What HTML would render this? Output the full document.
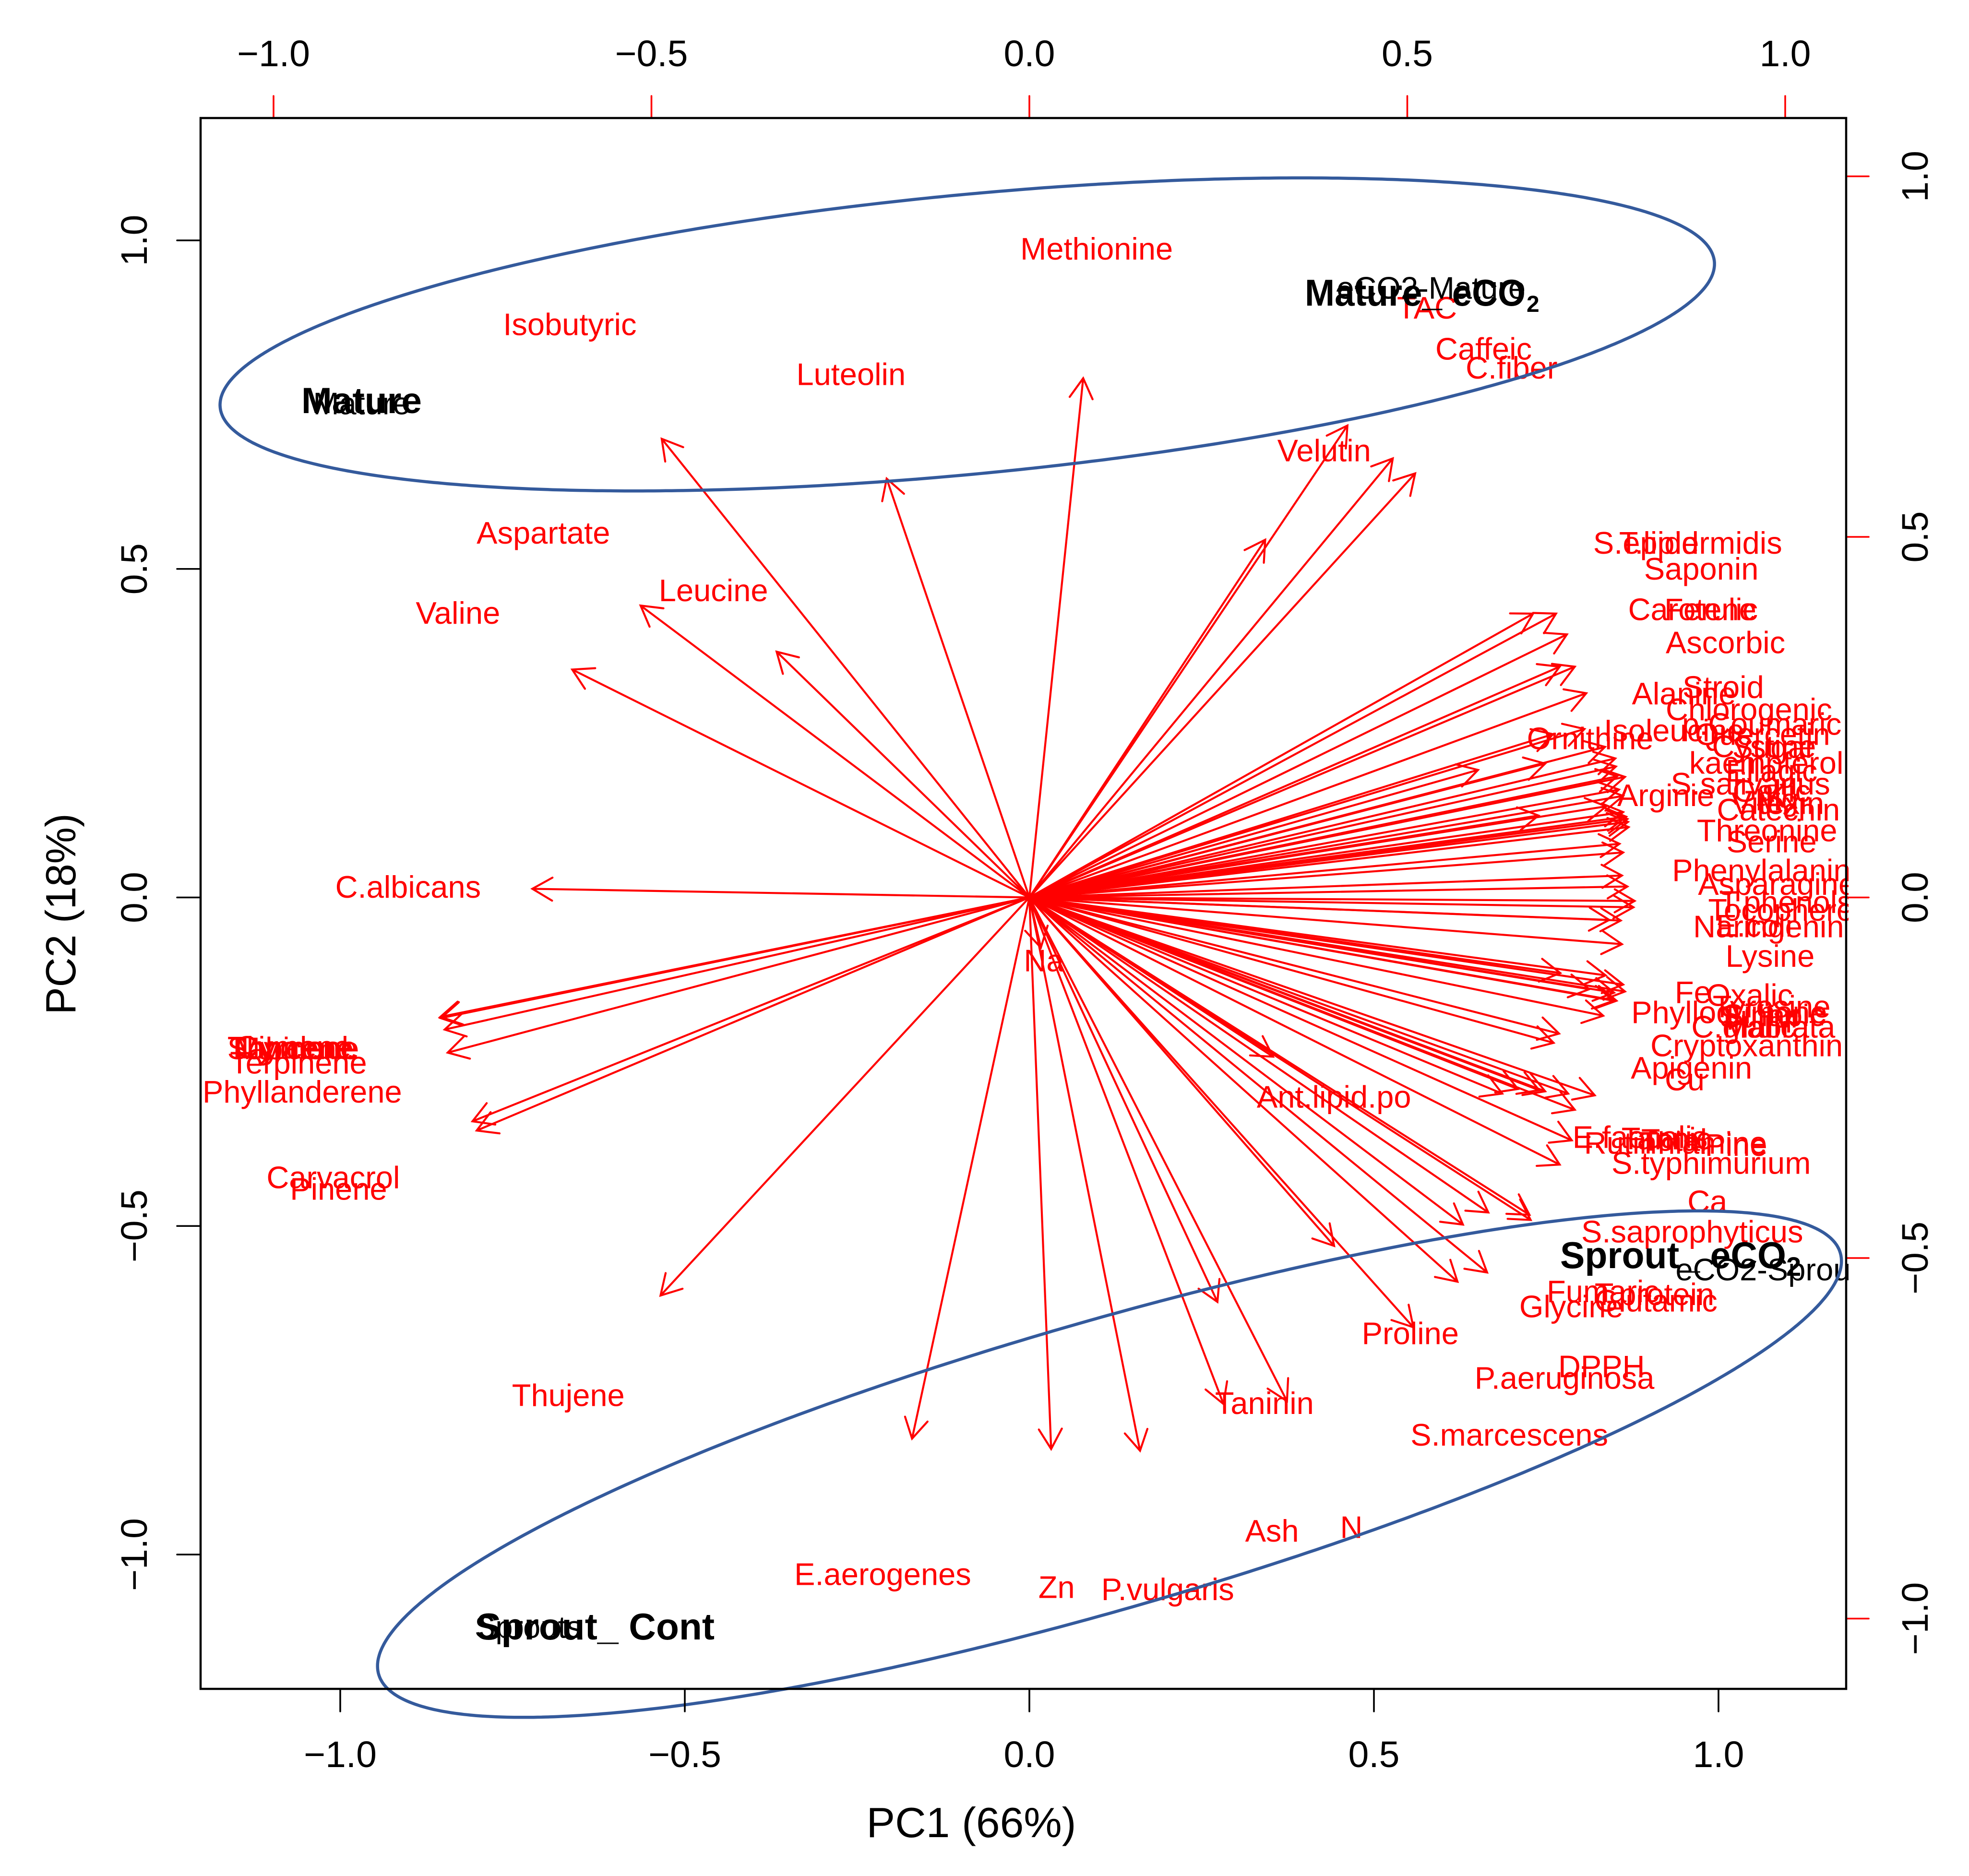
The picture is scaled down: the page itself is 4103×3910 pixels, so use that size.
<!DOCTYPE html>
<html lang="en">
<head>
<meta charset="utf-8">
<title>PCA biplot of sprouts and mature plants</title>
<style>
html,body{margin:0;padding:0;background:#fff;}
svg{display:block;}
text{font-family:"Liberation Sans",Arial,sans-serif;}
</style>
</head>
<body>
<svg id="biplot" xmlns="http://www.w3.org/2000/svg" width="4103" height="3910" viewBox="0 0 4103 3910">
  <rect x="0" y="0" width="4103" height="3910" fill="#ffffff"/>
  <defs><clipPath id="label-clip"><rect x="0" y="0" width="3852" height="3910"/></clipPath></defs>
  <g id="loadings-layer"></g>
  <g id="labels-layer" clip-path="url(#label-clip)"></g>
  <path id="mature-outline" fill="none" stroke="#345a9c" stroke-width="6.5"/>
  <path id="sprout-outline" fill="none" stroke="#345a9c" stroke-width="6.5"/>
  <text x="628" y="861" font-size="76" font-weight="bold" textLength="251" lengthAdjust="spacingAndGlyphs" fill="#000">Mature</text>
  <text x="2719" y="637" font-size="78" font-weight="bold" fill="#000" textLength="460" lengthAdjust="spacingAndGlyphs">Mature_ eCO</text>
  <text x="3181" y="650" font-size="48" font-weight="bold" fill="#000">2</text>
  <text x="992" y="3417" font-size="78" font-weight="bold" textLength="497" lengthAdjust="spacingAndGlyphs" fill="#000">Sprout_ Cont</text>
  <text x="3251" y="2643" font-size="78" font-weight="bold" fill="#000" textLength="471" lengthAdjust="spacingAndGlyphs">Sprout_ eCO</text>
  <text x="3722" y="2659" font-size="56" font-weight="bold" fill="#000">2</text>
  <g id="axes-layer"></g>
  <rect x="418" y="246" width="3429" height="3274" fill="none" stroke="#000" stroke-width="4.5"/>
  <text x="2024" y="3829" font-size="88" text-anchor="middle" textLength="437" lengthAdjust="spacingAndGlyphs" fill="#000">PC1 (66%)</text>
  <text x="157" y="1905" font-size="88" text-anchor="middle" textLength="419" lengthAdjust="spacingAndGlyphs" transform="rotate(-90 157 1905)" fill="#000">PC2 (18%)</text>
</svg>
<script>
// Variable loadings (top / right axis units)
const variableNames = ["S.epidermidis","T.lipid","Saponin","Carotene","Ferulic","Ascorbic","Stroid","Alanine","Chlorogenic","p.Coumaric","Isoleucine","Ornithine","Quercetin","Cystine","Sugar","kaempferol","Ellagic","S.salivarius","Gallic","K","Mg","Vitexin","Arginie","Catechin","Threonine","Serine","Phenylalanine","Asparagine","T.phenols","Tocopherol","Naringenin","E.coli","Lysine","Fe","Oxalic","Tyrosine","Phylloquinone","Sulfur","Sinapic","C.glabrata","Malic","Cryptoxanthin","Apigenin","Cu","E.faecalis","Rutin","Tannic","Total","Thiamine","Pine","S.typhimurium","Ca","S.saprophyticus","T.protein","Glutamic","Fumaric","Glycine","DPPH","P.aeruginosa","Proline","S.marcescens","Ant.lipid.po","Taninin","Na","Ash","N","Zn","P.vulgaris","E.aerogenes","Thujene","Carvacrol","Pinene","Phyllanderene","Terpinene","Sabinene","Thymene","Myrcene","Linalool","Cymene","C.albicans","Valine","Aspartate","Leucine","Isobutyric","Luteolin","Methionine","Velutin","TAC","Caffeic","C.fiber"];
const loadingPc1 = [0.871,0.833,0.889,0.877,0.902,0.921,0.918,0.866,0.952,0.969,0.853,0.742,0.970,0.972,0.985,0.975,0.982,0.954,0.982,0.987,0.989,0.990,0.842,0.991,0.976,0.982,0.980,0.989,1.001,0.999,0.978,0.959,0.980,0.878,0.953,0.982,0.926,0.967,0.985,0.971,0.966,0.949,0.876,0.867,0.808,0.782,0.843,0.853,0.891,0.935,0.902,0.897,0.877,0.827,0.829,0.759,0.717,0.757,0.708,0.504,0.635,0.403,0.311,0.019,0.321,0.426,0.036,0.183,-0.194,-0.610,-0.921,-0.914,-0.962,-0.967,-0.974,-0.975,-0.973,-0.972,-0.974,-0.822,-0.756,-0.643,-0.418,-0.608,-0.236,0.089,0.390,0.526,0.601,0.638];
const loadingPc2 = [0.492,0.492,0.456,0.400,0.400,0.354,0.292,0.283,0.261,0.241,0.232,0.221,0.227,0.210,0.209,0.187,0.176,0.158,0.148,0.140,0.136,0.131,0.142,0.122,0.093,0.078,0.038,0.019,-0.006,-0.017,-0.040,-0.039,-0.081,-0.131,-0.135,-0.151,-0.159,-0.165,-0.163,-0.179,-0.179,-0.205,-0.236,-0.252,-0.332,-0.340,-0.334,-0.336,-0.340,-0.343,-0.368,-0.421,-0.463,-0.550,-0.559,-0.546,-0.567,-0.650,-0.666,-0.604,-0.745,-0.276,-0.701,-0.087,-0.878,-0.873,-0.956,-0.959,-0.938,-0.690,-0.388,-0.404,-0.269,-0.229,-0.209,-0.208,-0.209,-0.208,-0.207,0.015,0.395,0.506,0.426,0.795,0.726,0.900,0.620,0.818,0.761,0.735];

// Sample scores (bottom / left axis units)
const sampleNames = ["Mature","eCO2-Mature","Sprouts","eCO2-Sprout"];
const samplePc1 = [-0.969,0.583,-0.727,1.071];
const samplePc2 = [0.752,0.928,-1.110,-0.566];

// Axis ticks
const bottomTicks = [-1.0,-0.5,0.0,0.5,1.0];
const bottomTickLabels = ["\u22121.0","\u22120.5","0.0","0.5","1.0"];
const leftTicks = [-1.0,-0.5,0.0,0.5,1.0];
const leftTickLabels = ["\u22121.0","\u22120.5","0.0","0.5","1.0"];
const topTicks = [-1.0,-0.5,0.0,0.5,1.0];
const topTickLabels = ["\u22121.0","\u22120.5","0.0","0.5","1.0"];
const rightTicks = [-1.0,-0.5,0.0,0.5,1.0];
const rightTickLabels = ["\u22121.0","\u22120.5","0.0","0.5","1.0"];

const arrowScale = 0.8;

// Hand-drawn group outlines (page annotation shapes, not chart data)
const matureOutlineShape = "460,843 480,790 544,739 647,688 767,639 928,590 1123,540 1376,489 1697,440 1973,410 2200,392 2330,381 2559,371 2708,370 2904,374 3133,389 3305,413 3432,443 3524,484 3570,530 3573,553 3558,596 3478,662 3363,716 3248,759 3076,813 2881,861 2731,889 2594,915 2433,940 2238,966 2100,983 1852,1003 1548,1018 1330,1024 1089,1017 917,1007 744,986 618,958 549,933 498,905 469,871";
const sproutOutlineShape = "794,3475 820,3405 891,3317 1025,3237 1178,3156 1370,3068 1561,2988 1752,2914 1934,2856 2087,2805 2200,2774 2316,2740 2465,2700 2556,2675 2813,2617 3012,2580 3400,2530 3533,2525 3701,2530 3772,2560 3821,2592 3840,2627 3835,2663 3793,2719 3701,2791 3561,2888 3351,2990 3175,3064 3000,3143 2700,3245 2393,3337 2200,3394 1944,3454 1642,3521 1427,3554 1274,3570 1087,3580 939,3570 843,3545 805,3510";

const SVG_NS = "http://www.w3.org/2000/svg";
const xBottom = v => 2145 + 1436 * v;
const yLeft = v => 1870.5 - 1369.5 * v;
const xTop = v => 2145 + 1575 * v;
const yRight = v => 1870.5 - 1503 * v;

function slug(s){ return s.toLowerCase().replace(/[^a-z0-9]+/g,'-'); }

function make(tag, attrs, parent){
  const el = document.createElementNS(SVG_NS, tag);
  for (const k in attrs) el.setAttribute(k, attrs[k]);
  parent.appendChild(el);
  return el;
}

// Smooth an outline: express it as radius around a reference ellipse, keep only low harmonics.
function smoothOutline(shape, cx, cy, a, b, deg, harmonics){
  const t = deg * Math.PI / 180, ct = Math.cos(t), st = Math.sin(t);
  const polar = shape.split(' ').map(s => {
    const q = s.split(',').map(Number);
    const dx = q[0] - cx, dy = q[1] - cy;
    const u = (dx * ct + dy * st) / a, v = (-dx * st + dy * ct) / b;
    return [Math.atan2(v, u), Math.hypot(u, v)];
  }).sort((p, q) => p[0] - q[0]);
  const N = 720, radii = [];
  const m = polar.length;
  for (let i = 0; i < N; i++){
    const phi = -Math.PI + 2 * Math.PI * i / N;
    let j = 0;
    while (j < m && polar[j][0] <= phi) j++;
    const p1 = j === 0 ? [polar[m - 1][0] - 2 * Math.PI, polar[m - 1][1]] : polar[j - 1];
    const p2 = j === m ? [polar[0][0] + 2 * Math.PI, polar[0][1]] : polar[j];
    const w = (phi - p1[0]) / (p2[0] - p1[0]);
    radii.push(p1[1] + (p2[1] - p1[1]) * w);
  }
  const re = [], im = [];
  for (let k = 0; k <= harmonics; k++){
    let c = 0, s = 0;
    for (let i = 0; i < N; i++){
      const ang = 2 * Math.PI * k * i / N;
      c += radii[i] * Math.cos(ang);
      s += radii[i] * Math.sin(ang);
    }
    re.push(c / N); im.push(s / N);
  }
  let d = '';
  for (let i = 0; i < N; i++){
    let r = re[0];
    for (let k = 1; k <= harmonics; k++){
      const ang = 2 * Math.PI * k * i / N;
      r += 2 * (re[k] * Math.cos(ang) + im[k] * Math.sin(ang));
    }
    const phi = -Math.PI + 2 * Math.PI * i / N;
    const u = r * Math.cos(phi) * a, v = r * Math.sin(phi) * b;
    const x = cx + u * ct - v * st, y = cy + u * st + v * ct;
    d += (i ? 'L' : 'M') + x.toFixed(1) + ' ' + y.toFixed(1);
  }
  return d + 'Z';
}
document.getElementById('mature-outline').setAttribute('d', smoothOutline(matureOutlineShape, 2015.5, 697, 1565, 291, -5.67, 4));
document.getElementById('sprout-outline').setAttribute('d', smoothOutline(sproutOutlineShape, 2316, 3052, 1583.6, 306, -16.08, 4));

const arrowsLayer = document.getElementById('loadings-layer');
const labelsLayer = document.getElementById('labels-layer');
const axesLayer = document.getElementById('axes-layer');

function drawArrow(name, lx, ly){
  const x0 = xTop(0), y0 = yRight(0);
  const x1 = xTop(lx * arrowScale), y1 = yRight(ly * arrowScale);
  const a = Math.atan2(y1 - y0, x1 - x0);
  const len = 48, spread = Math.PI / 6;
  const ax = x1 - len * Math.cos(a - spread), ay = y1 - len * Math.sin(a - spread);
  const bx = x1 - len * Math.cos(a + spread), by = y1 - len * Math.sin(a + spread);
  const d = 'M' + x0 + ' ' + y0 + 'L' + x1 + ' ' + y1 + 'M' + ax + ' ' + ay + 'L' + x1 + ' ' + y1 + 'L' + bx + ' ' + by;
  const el = make('path', {d: d, fill: 'none', stroke: '#ff0000', 'stroke-width': 4.2, 'stroke-linecap': 'round'}, arrowsLayer);
  
  
}

function drawVariableLabel(name, lx, ly){
  const el = make('text', {x: xTop(lx), y: yRight(ly) + 23, 'font-size': 65, 'text-anchor': 'middle', fill: '#ff0000'}, labelsLayer);
  el.textContent = name;
  
  
}

function drawSampleLabel(name, sx, sy){
  const el = make('text', {x: xBottom(sx), y: yLeft(sy) + 23, 'font-size': 65, 'text-anchor': 'middle', fill: '#000000'}, labelsLayer);
  el.textContent = name;
  
  
}

variableNames.forEach((n, i) => drawArrow(n, loadingPc1[i], loadingPc2[i]));
variableNames.forEach((n, i) => drawVariableLabel(n, loadingPc1[i], loadingPc2[i]));
sampleNames.forEach((n, i) => drawSampleLabel(n, samplePc1[i], samplePc2[i]));

function drawTick(x1, y1, x2, y2, color, name){
  const el = make('line', {x1: x1, y1: y1, x2: x2, y2: y2, stroke: color, 'stroke-width': 3.6, 'stroke-linecap': 'round'}, axesLayer);
  
  
}

function drawTickLabel(x, y, txt, rotated, name){
  const attrs = {x: x, y: y, 'font-size': 77, 'text-anchor': 'middle', fill: '#000000'};
  if (rotated) attrs.transform = 'rotate(-90 ' + x + ' ' + y + ')';
  const el = make('text', attrs, axesLayer);
  el.textContent = txt;
  
  
}

bottomTicks.forEach((v, i) => {
  drawTick(xBottom(v), 3520, xBottom(v), 3567, '#000000', 'bottom-tick');
  drawTickLabel(xBottom(v), 3683, bottomTickLabels[i], false, 'bottom-tick-label');
});
leftTicks.forEach((v, i) => {
  drawTick(418, yLeft(v), 369, yLeft(v), '#000000', 'left-tick');
  drawTickLabel(306, yLeft(v), leftTickLabels[i], true, 'left-tick-label');
});
topTicks.forEach((v, i) => {
  drawTick(xTop(v), 246, xTop(v), 200, '#ff0000', 'top-tick');
  drawTickLabel(xTop(v), 138, topTickLabels[i], false, 'top-tick-label');
});
rightTicks.forEach((v, i) => {
  drawTick(3847, yRight(v), 3894, yRight(v), '#ff0000', 'right-tick');
  drawTickLabel(4017, yRight(v), rightTickLabels[i], true, 'right-tick-label');
});
</script>
</body>
</html>
